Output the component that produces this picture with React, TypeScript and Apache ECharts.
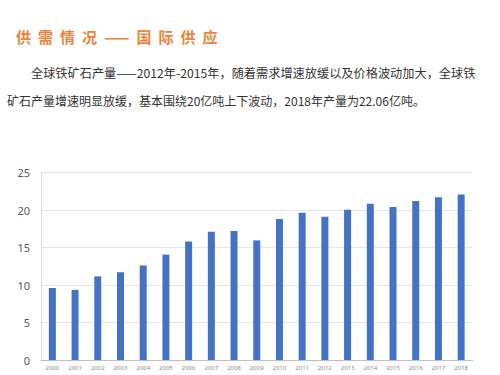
import React, { useEffect, useRef } from "react";
import * as echarts from "echarts";

const titleText = "供需情况——国际供应";
const paragraphLines = [
  "全球铁矿石产量——2012年-2015年，随着需求增速放缓以及价格波动加大，全球铁",
  "矿石产量增速明显放缓，基本围绕20亿吨上下波动，2018年产量为22.06亿吨。",
];
const years = [
  "2000", "2001", "2002", "2003", "2004", "2005", "2006", "2007", "2008", "2009",
  "2010", "2011", "2012", "2013", "2014", "2015", "2016", "2017", "2018",
];
const production = [
  9.6, 9.35, 11.15, 11.7, 12.6, 14.05, 15.8, 17.1, 17.2, 15.95,
  18.8, 19.65, 19.1, 20.05, 20.85, 20.4, 21.2, 21.7, 22.06,
];

const CJK = '"Noto Sans CJK SC", "Noto Sans", sans-serif';

export default function App() {
  const ref = useRef<HTMLDivElement>(null);
  useEffect(() => {
    if (!ref.current) return;
    const chart = echarts.init(ref.current, null, { renderer: "svg" });
    chart.setOption({
      animation: false,
      backgroundColor: "#ffffff",
      grid: { left: 41, right: 27.5, top: 172.5, bottom: 15, containLabel: false },
      graphic: [
        {
          type: "text",
          x: 31,
          y: 73,
          style: {
            text: paragraphLines[0],
            fill: "#333333",
            font: `12.2px ${CJK}`,
            textVerticalAlign: "middle",
          },
        },
        {
          type: "text",
          x: 7,
          y: 100,
          style: {
            text: paragraphLines[1],
            fill: "#333333",
            font: `12px ${CJK}`,
            textVerticalAlign: "middle",
          },
        },
      ],
      xAxis: {
        type: "category",
        data: years,
        axisLine: { show: true, lineStyle: { color: "#bfbfbf", width: 1 } },
        axisTick: { show: false },
        axisLabel: {
          color: "#8c8c8c",
          fontSize: 6,
          fontFamily: "Noto Sans",
          margin: 5,
          interval: 0,
        },
      },
      yAxis: {
        type: "value",
        min: 0,
        max: 25,
        interval: 5,
        axisLine: { show: true, lineStyle: { color: "#d9d9d9", width: 1 } },
        axisTick: { show: false },
        splitLine: { show: true, lineStyle: { color: "#e6e6e6", width: 1 } },
        axisLabel: {
          color: "#595959",
          fontSize: 11,
          fontFamily: "Noto Sans",
          margin: 11,
        },
      },
      series: [
        {
          type: "bar",
          data: production,
          barWidth: 7,
          itemStyle: { color: "#4472C4" },
        },
      ],
    });
    return () => chart.dispose();
  }, []);

  return (
    <div style={{ position: "fixed", left: 0, top: 0, width: 500, height: 375, background: "#fff" }}>
      <div ref={ref} style={{ position: "absolute", left: 0, top: 0, width: 500, height: 375 }} />
      <div
        style={{
          position: "absolute",
          left: 16,
          top: 27,
          height: 20,
          lineHeight: "20px",
          fontFamily: CJK,
          fontSize: 15,
          fontWeight: "bold",
          letterSpacing: "7px",
          color: "#E9853C",
          whiteSpace: "nowrap",
        }}
      >
        {titleText}
      </div>
    </div>
  );
}
